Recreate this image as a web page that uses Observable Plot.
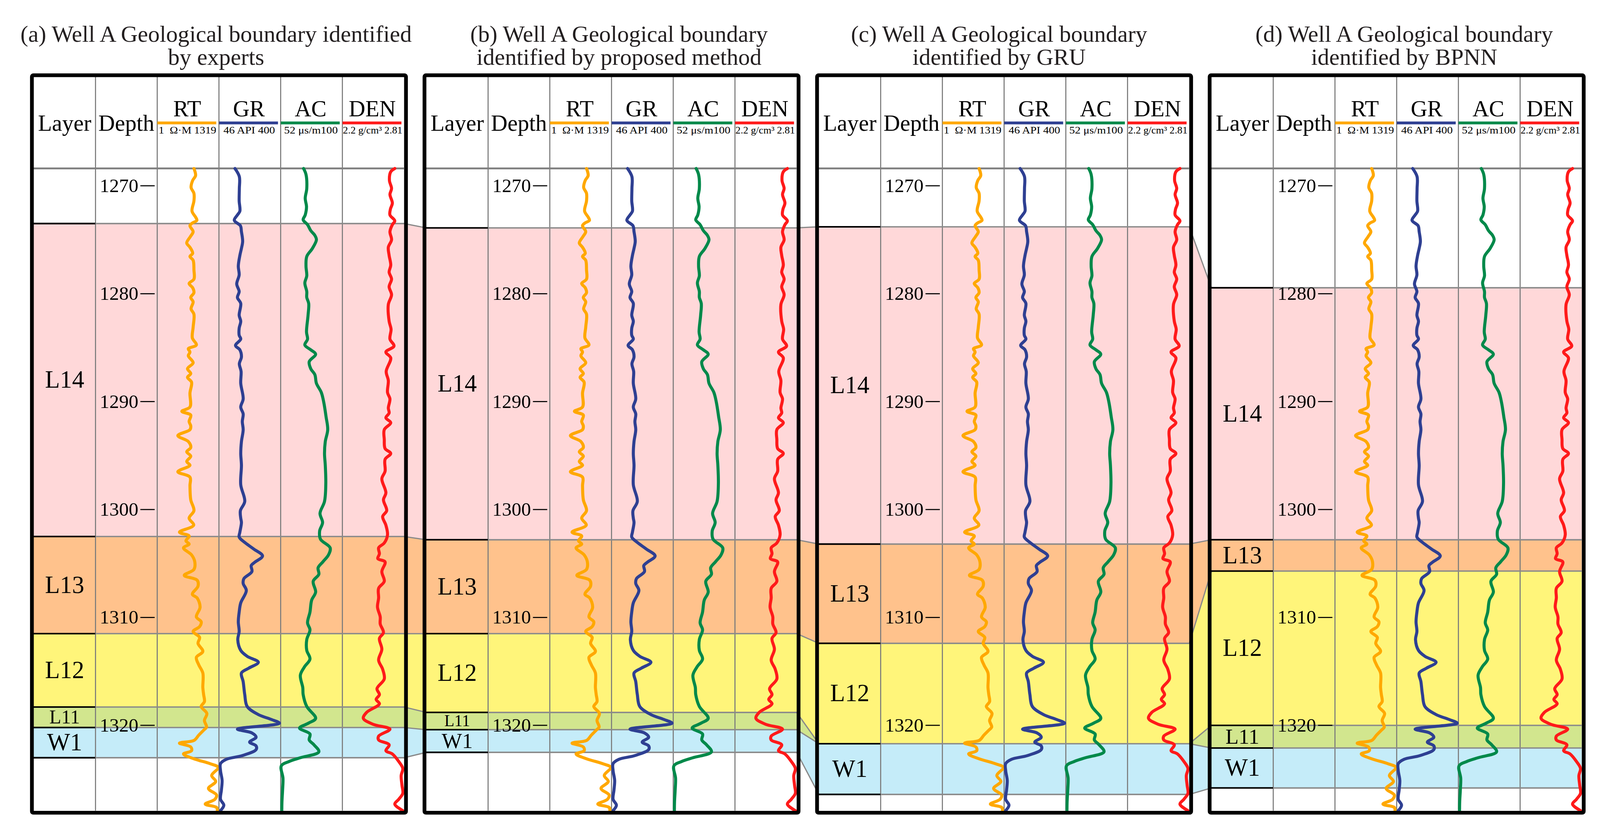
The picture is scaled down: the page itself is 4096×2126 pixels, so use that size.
<!DOCTYPE html>
<html><head><meta charset="utf-8">
<script src="https://cdn.jsdelivr.net/npm/d3@7"></script>
<script src="https://cdn.jsdelivr.net/npm/@observablehq/plot@0.6"></script>
<style>html,body{margin:0;padding:0;background:#fff;overflow:hidden;}</style>
</head><body><div id="chart"></div>
<script>
// ---------------- data ----------------
const panels = ["a", "b", "c", "d"];
const panelTitles = [
  "(a) Well A Geological boundary identified\nby experts",
  "(b) Well A Geological boundary\nidentified by proposed method",
  "(c) Well A Geological boundary\nidentified by GRU",
  "(d) Well A Geological boundary\nidentified by BPNN"
];
const layerNames = ["L14", "L13", "L12", "L11", "W1"];
// top depth of each layer (m), last value = base of W1; null = layer not identified
const boundsA = [1273.5, 1302.5, 1311.5, 1318.3, 1320.2, 1323.0];
const boundsB = [1273.9, 1302.8, 1311.5, 1318.8, 1320.4, 1322.5];
const boundsC = [1273.8, 1303.2, 1312.4, null, 1321.7, 1326.4];
const boundsD = [1279.45, 1302.8, 1305.7, 1320.0, 1322.1, 1325.8];
const depthTicks = [1270, 1280, 1290, 1300, 1310, 1320];
const trackNames = ["RT", "GR", "AC", "DEN"];
const trackUnits = ["1  Ω·M 1319", "46 API 400", "52 μs/m100", "2.2 g/cm³ 2.81"];
const trackMin = [1, 46, 52, 2.2];
const trackMax = [1319, 400, 100, 2.81];

// [depth m, value]
const rtLog = [[1268.4,785],[1269.05,820],[1269.5,758],[1270.15,724],[1270.7,785],[1271.4,785],[1272.35,744],[1272.9,820],[1273.2,848],[1273.45,751],[1273.7,700],[1274.25,768],[1274.7,710],[1275.3,631],[1275.7,700],[1276.25,758],[1276.55,700],[1276.9,768],[1277.8,785],[1278.65,785],[1279.05,682],[1279.45,758],[1279.9,785],[1280.35,717],[1280.75,768],[1281.4,724],[1281.9,785],[1283.1,768],[1284.1,751],[1284.75,837],[1285.1,665],[1285.4,700],[1285.75,665],[1286.4,768],[1286.95,648],[1287.4,717],[1287.75,648],[1288.2,734],[1289.2,700],[1290.5,700],[1290.9,527],[1291.25,717],[1291.85,682],[1292.25,717],[1292.6,700],[1293.15,441],[1293.7,665],[1294.25,717],[1294.65,631],[1295.05,717],[1295.55,631],[1295.9,700],[1296.5,441],[1297.0,700],[1297.8,700],[1299.1,717],[1300.1,785],[1300.8,682],[1301.45,779],[1302.1,476],[1302.45,682],[1302.9,614],[1303.2,682],[1303.55,562],[1304.2,734],[1304.85,803],[1305.55,785],[1306.1,579],[1306.55,854],[1307.1,872],[1307.85,751],[1308.2,854],[1309.05,916],[1309.95,837],[1310.4,940],[1310.85,906],[1311.3,768],[1311.85,906],[1312.4,872],[1313.15,975],[1313.7,837],[1314.4,889],[1315.15,975],[1316.5,975],[1317.15,992],[1317.8,1009],[1318.25,940],[1318.9,1061],[1319.55,1009],[1320.15,1054],[1320.45,992],[1320.9,889],[1321.4,785],[1321.65,476],[1322.0,717],[1322.35,734],[1322.65,562],[1323.1,785],[1323.55,1130],[1323.9,1302],[1324.65,1164],[1325.2,1250],[1325.85,1095],[1326.45,1267],[1326.85,1233],[1327.3,1026],[1327.6,1267],[1327.9,1284]];
const grLog = [[1268.4,138],[1269.15,163],[1270.25,163],[1271.4,162],[1272.35,166],[1272.7,152],[1273.2,134],[1273.7,169],[1274.25,175],[1275.15,182],[1275.8,175],[1276.45,166],[1277.45,157],[1278.25,162],[1279.1,148],[1279.8,162],[1280.35,152],[1280.9,171],[1282.0,162],[1282.55,171],[1283.2,162],[1283.85,162],[1284.2,171],[1284.8,141],[1285.2,166],[1285.85,175],[1286.5,163],[1287.2,173],[1288.3,171],[1289.75,185],[1290.5,171],[1291.15,185],[1291.85,180],[1292.6,185],[1293.7,175],[1294.8,171],[1295.9,175],[1297.7,171],[1299.25,194],[1300.1,169],[1300.8,171],[1301.2,175],[1302.1,166],[1302.55,162],[1303.1,198],[1303.65,245],[1304.3,296],[1304.9,250],[1305.2,231],[1305.75,235],[1306.4,189],[1306.85,185],[1307.5,203],[1308.65,171],[1309.5,162],[1310.4,157],[1311.3,162],[1312.05,154],[1313.05,171],[1313.6,208],[1314.15,272],[1314.7,217],[1315.15,175],[1315.95,185],[1317.15,194],[1318.25,208],[1319.0,272],[1319.45,346],[1319.8,393],[1320.35,152],[1320.7,235],[1321.1,259],[1321.55,222],[1321.9,259],[1322.25,259],[1322.8,180],[1323.15,88],[1323.55,55],[1324.2,55],[1325.1,64],[1326.0,60],[1326.85,55],[1327.4,74],[1327.9,55]];
const acLog = [[1268.4,69.8],[1268.95,71.7],[1270.25,72.3],[1271.15,71.1],[1271.95,72.1],[1272.7,71.1],[1273.15,69.5],[1273.6,72.9],[1274.15,75.4],[1274.6,78.6],[1275.0,79.8],[1275.8,76.7],[1276.55,72.3],[1277.45,71.7],[1278.35,72.3],[1279.0,70.8],[1279.8,72.3],[1280.35,72.3],[1280.9,73.8],[1282.0,73.3],[1283.55,72.1],[1284.2,72.9],[1284.75,70.8],[1285.2,75.4],[1285.6,79.2],[1286.3,74.2],[1286.95,75.4],[1287.5,78.6],[1288.3,79.8],[1289.15,83.6],[1290.05,85.5],[1291.4,87.3],[1292.6,88.6],[1293.7,86.7],[1294.8,86.1],[1295.9,86.7],[1297.6,87.1],[1299.25,86.1],[1300.35,82.6],[1301.2,84.6],[1302.0,82.3],[1302.75,83.0],[1303.55,90.5],[1304.2,89.2],[1304.85,84.8],[1305.4,81.1],[1306.0,81.7],[1306.65,77.3],[1307.65,79.2],[1308.4,76.1],[1309.5,74.8],[1310.5,72.9],[1311.15,74.8],[1312.05,72.3],[1313.05,72.3],[1313.85,74.8],[1314.6,70.4],[1315.35,67.3],[1316.5,69.2],[1317.15,69.5],[1318.25,72.3],[1319.35,79.2],[1319.8,73.6],[1320.25,66.7],[1320.8,74.8],[1321.35,74.2],[1321.8,77.9],[1322.45,81.7],[1323.0,67.3],[1323.35,58.5],[1323.75,52.5],[1324.9,53.8],[1326.0,53.5],[1327.1,53.0],[1327.9,52.9]];
const denLog = [[1268.4,2.718],[1268.7,2.678],[1269.5,2.665],[1270.25,2.686],[1270.8,2.670],[1271.6,2.694],[1272.15,2.675],[1272.7,2.670],[1273.25,2.718],[1273.6,2.694],[1274.25,2.670],[1275.0,2.686],[1275.7,2.654],[1276.45,2.662],[1277.35,2.678],[1278.0,2.662],[1278.65,2.686],[1279.35,2.662],[1280.1,2.686],[1281.0,2.654],[1282.55,2.662],[1283.3,2.681],[1284.2,2.670],[1284.85,2.710],[1285.4,2.630],[1285.95,2.678],[1287.2,2.633],[1288.05,2.654],[1289.15,2.646],[1289.75,2.670],[1290.6,2.654],[1291.05,2.662],[1291.5,2.630],[1291.95,2.678],[1292.6,2.614],[1293.5,2.614],[1294.35,2.622],[1294.8,2.678],[1295.35,2.622],[1296.45,2.622],[1297.15,2.590],[1298.45,2.630],[1299.1,2.606],[1300.1,2.638],[1300.65,2.598],[1301.45,2.630],[1302.35,2.646],[1303.1,2.614],[1303.55,2.558],[1304.1,2.566],[1304.55,2.550],[1304.85,2.622],[1305.75,2.590],[1306.65,2.614],[1307.3,2.558],[1308.2,2.558],[1309.05,2.547],[1309.95,2.574],[1310.6,2.574],[1311.4,2.606],[1311.95,2.566],[1312.95,2.590],[1313.95,2.558],[1314.8,2.598],[1315.7,2.614],[1316.6,2.542],[1317.15,2.566],[1317.6,2.534],[1318.0,2.566],[1318.8,2.439],[1319.35,2.407],[1319.9,2.503],[1320.35,2.670],[1321.0,2.558],[1321.35,2.558],[1321.8,2.662],[1322.35,2.630],[1322.65,2.694],[1323.35,2.757],[1324.0,2.797],[1324.65,2.781],[1325.55,2.789],[1326.3,2.797],[1326.85,2.757],[1327.3,2.718],[1327.9,2.797]];

// ---------------- styles / layout ----------------
const layerFill = {L14: "#ffd8d9", L13: "#ffc28c", L12: "#fff57a", L11: "#d2e68e", W1: "#c5ecf9"};
const trackColor = ["#ffa800", "#2e3f92", "#00894a", "#ff1a1a"];
const unitWidth = [161, 144, 150, 166];     // reference px width of the scale labels
const titleShift = [-8, 21, -14, 21];        // reference px horizontal nudge of the titles
const S = 4096 / 4468;              // scale from reference pixels
const R = v => v * S;
const COLW = 172.5;                 // reference px per column
const GAP = 62 / COLW;              // gap between panels in column units
const depthAt = py => 1270 + (py - 518.6) / 30.15;   // reference y px -> depth coordinate
const Y0 = depthAt(470), Y1 = depthAt(2265);
const FONT = "'Liberation Serif','Times New Roman',serif";

// ---------------- derived tables ----------------
const allBounds = [boundsA, boundsB, boundsC, boundsD];
const nextDef = (b, i) => { for (let j = i; j < b.length; j++) if (b[j] != null) return b[j]; return b[b.length - 1]; };
const bands = [], bLines = [], conn = [], connLines = [];
panels.forEach((p, k) => {
  const b = allBounds[k];
  layerNames.forEach((name, i) => {
    if (b[i] == null) return;
    bands.push({panel: p, layer: name, top: b[i], bottom: nextDef(b, i + 1)});
  });
  b.forEach(v => { if (v != null) bLines.push({panel: p, depth: v}); });
  if (k < panels.length - 1) {
    const b2 = allBounds[k + 1];
    layerNames.forEach((name, i) => {
      conn.push({panel: p, layer: name, x: 6, y1: nextDef(b, i), y2: nextDef(b, i + 1)});
      conn.push({panel: p, layer: name, x: 6 + GAP, y1: nextDef(b2, i), y2: nextDef(b2, i + 1)});
    });
    b.forEach((v, j) => {
      connLines.push({panel: p, key: j, x: 6, y: nextDef(b, j)});
      connLines.push({panel: p, key: j, x: 6 + GAP, y: nextDef(b2, j)});
    });
  }
});
const titleRows = panels.map((p, i) => ({panel: p, title: panelTitles[i], i}));
const headerRows = [{t: "Layer", c: 0.5}, {t: "Depth", c: 1.5}];
const trackRows = trackNames.map((n, t) => ({t, name: n, unit: trackUnits[t]}));
const curves = [rtLog, grLog, acLog, denLog];

const chart = Plot.plot({
  width: 4096, height: 2126,
  marginTop: R(470), marginBottom: R(2319 - 2265), marginLeft: R(92), marginRight: R(4468 - 4418),
  fx: {domain: panels, paddingInner: 62 / 1097, paddingOuter: 0, axis: null, label: null},
  x: {domain: [0, 6], axis: null},
  y: {domain: [Y0, Y1], reverse: true, axis: null},
  color: {type: "identity"},
  style: {fontFamily: FONT, background: "white", overflow: "visible"},
  marks: [
    // layer bands
    Plot.rect(bands, {fx: "panel", x1: d => 0, x2: d => 6, y1: "top", y2: "bottom", fill: d => layerFill[d.layer]}),
    // connectors between panels
    Plot.areaY(conn, {fx: "panel", x: "x", y1: "y1", y2: "y2", z: "layer", fill: d => layerFill[d.layer], curve: "linear"}),
    Plot.line(connLines, {fx: "panel", x: "x", y: "y", z: "key", stroke: "#8a8a8a", strokeWidth: R(3.5), curve: "linear"}),
    // column grid
    Plot.ruleX([1, 2, 3, 4, 5], {stroke: "#7c7c7c", strokeWidth: R(3), insetTop: -R(470 - 215)}),
    Plot.ruleY([Y0], {stroke: "#808080", strokeWidth: R(5)}),
    // boundaries
    Plot.ruleY(bLines, {fx: "panel", y: "depth", x1: d => 1, x2: d => 6, stroke: "#8a8a8a", strokeWidth: R(4)}),
    Plot.ruleY(bLines, {fx: "panel", y: "depth", x1: d => 0, x2: d => 1, stroke: "#000", strokeWidth: R(4.5)}),
    // log curves
    ...curves.map((c, t) => Plot.line(c, {
      x: d => 2 + t + (d[1] - trackMin[t]) / (trackMax[t] - trackMin[t]),
      y: d => d[0], stroke: trackColor[t], strokeWidth: R(8.5), curve: "catmull-rom", strokeLinejoin: "round"
    })),
    // depth ticks
    Plot.ruleY(depthTicks, {y: d => d, x1: d => 2 - 46.6 / COLW, x2: d => 2 - 6.6 / COLW, stroke: "#000", strokeWidth: R(3)}),
    Plot.text(depthTicks, {x: d => 2, y: d => d, text: d => String(d), textAnchor: "end", dx: -R(52.6), fontSize: R(54), lineAnchor: "middle", fill: "#000"}),
    // layer labels
    Plot.text(bands, {fx: "panel", x: d => 0.5, y: d => (d.top + d.bottom) / 2, text: "layer", lineAnchor: "middle", fill: "#000",
      fontSize: d => R(Math.min(68, (d.bottom - d.top) * 30.15 * 0.95))}),
    // header
    Plot.text(headerRows, {x: "c", y: d => depthAt(365), text: "t", fontSize: R(64), lineAnchor: "bottom", fill: "#000"}),
    Plot.text(trackRows, {x: d => 2 + d.t + 0.485, y: d => depthAt(325), text: "name", fontSize: R(64), lineAnchor: "bottom", fill: "#000"}),
    Plot.ruleY(trackRows, {y: d => depthAt(343), x1: d => 2 + d.t + 0.005, x2: d => 2 + d.t + 0.96, stroke: d => trackColor[d.t], strokeWidth: R(8)}),
    Plot.text(trackRows, {x: d => 2 + d.t + 0.49, y: d => depthAt(373), text: "unit", fontSize: R(28), lineAnchor: "bottom", fill: "#000"}),
    // titles
    Plot.text(titleRows, {fx: "panel", x: d => 3 + titleShift[d.i] / COLW, y: d => depthAt(180), text: "title", fontSize: R(65), lineHeight: 0.99, lineAnchor: "bottom", fill: "#231f20"}),
    // panel frame
    Plot.frame({stroke: "#000", strokeWidth: R(10.5), insetTop: -R(470 - 209.75), insetLeft: -R(5.25), insetRight: -R(5.25), insetBottom: -R(5.25), rx: R(4)})
  ]
});
// fit the scale labels to the track width as in the reference
d3.select(chart).selectAll("text").each(function () {
  const u = trackUnits.indexOf(this.textContent);
  if (u >= 0) d3.select(this).attr("textLength", R(unitWidth[u])).attr("lengthAdjust", "spacingAndGlyphs");
});
document.getElementById("chart").appendChild(chart);
</script>
</body></html>
